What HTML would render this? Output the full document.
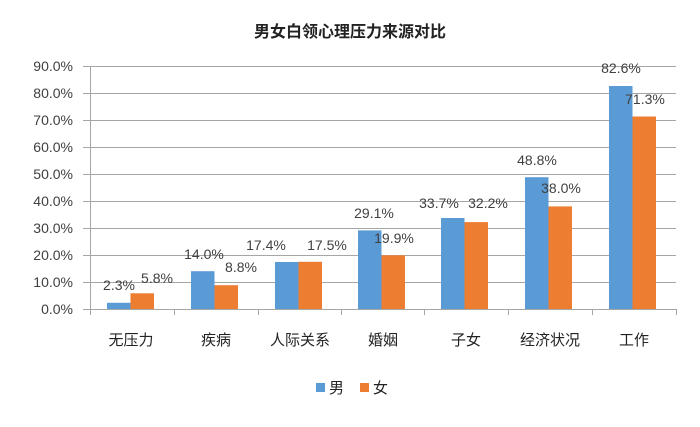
<!DOCTYPE html>
<html><head><meta charset="utf-8"><style>
html,body{margin:0;padding:0;background:#fff;}
svg text{font-family:"Liberation Sans","Noto Sans CJK SC",sans-serif;}
</style></head><body>
<svg width="700" height="422" viewBox="0 0 700 422" xmlns="http://www.w3.org/2000/svg">
<rect width="700" height="422" fill="#fff"/>
<text x="350" y="37" text-anchor="middle" font-size="16" font-weight="bold" fill="#222">男女白领心理压力来源对比</text>
<g stroke="#a6a6a6" stroke-width="1">
<line x1="83" y1="66.5" x2="676" y2="66.5"/>
<line x1="83" y1="93.5" x2="676" y2="93.5"/>
<line x1="83" y1="120.5" x2="676" y2="120.5"/>
<line x1="83" y1="147.5" x2="676" y2="147.5"/>
<line x1="83" y1="174.5" x2="676" y2="174.5"/>
<line x1="83" y1="201.5" x2="676" y2="201.5"/>
<line x1="83" y1="228.5" x2="676" y2="228.5"/>
<line x1="83" y1="255.5" x2="676" y2="255.5"/>
<line x1="83" y1="282.5" x2="676" y2="282.5"/>
<line x1="83" y1="309.5" x2="676" y2="309.5"/>
<line x1="90.5" y1="66" x2="90.5" y2="315"/>
<line x1="174.5" y1="309" x2="174.5" y2="315"/>
<line x1="258.5" y1="309" x2="258.5" y2="315"/>
<line x1="341.5" y1="309" x2="341.5" y2="315"/>
<line x1="424.5" y1="309" x2="424.5" y2="315"/>
<line x1="508.5" y1="309" x2="508.5" y2="315"/>
<line x1="592.5" y1="309" x2="592.5" y2="315"/>
<line x1="676.5" y1="309" x2="676.5" y2="315"/>
</g>
<g font-size="14" fill="#404040" text-anchor="end">
<text x="73" y="71">90.0%</text><text x="73" y="98">80.0%</text><text x="73" y="125">70.0%</text>
<text x="73" y="152">60.0%</text><text x="73" y="179">50.0%</text><text x="73" y="206">40.0%</text>
<text x="73" y="233">30.0%</text><text x="73" y="260">20.0%</text><text x="73" y="287">10.0%</text>
<text x="73" y="314">0.0%</text>
</g>
<g fill="#5b9bd5">
<rect x="107" y="302.8" width="23.5" height="6.2"/>
<rect x="191" y="271.2" width="23.5" height="37.8"/>
<rect x="275" y="262" width="23.5" height="47"/>
<rect x="358" y="230.4" width="23.5" height="78.6"/>
<rect x="441" y="218" width="23.5" height="91"/>
<rect x="525" y="177.2" width="23.5" height="131.8"/>
<rect x="609" y="86" width="23.5" height="223"/>
</g>
<g fill="#ed7d31">
<rect x="130.5" y="293.3" width="23.5" height="15.7"/>
<rect x="214.5" y="285.2" width="23.5" height="23.8"/>
<rect x="298.5" y="261.8" width="23.5" height="47.2"/>
<rect x="381.5" y="255.3" width="23.5" height="53.7"/>
<rect x="464.5" y="222.1" width="23.5" height="86.9"/>
<rect x="548.5" y="206.4" width="23.5" height="102.6"/>
<rect x="632.5" y="116.5" width="23.5" height="192.5"/>
</g>
<g font-size="14" fill="#404040" text-anchor="middle">
<text x="119" y="290">2.3%</text><text x="157" y="283">5.8%</text>
<text x="204" y="259">14.0%</text><text x="241" y="272">8.8%</text>
<text x="266" y="250">17.4%</text><text x="327" y="250">17.5%</text>
<text x="374" y="218">29.1%</text><text x="394" y="243">19.9%</text>
<text x="439" y="208">33.7%</text><text x="488" y="208">32.2%</text>
<text x="537" y="165">48.8%</text><text x="561" y="193">38.0%</text>
<text x="621" y="73">82.6%</text><text x="645" y="104">71.3%</text>
</g>
<g font-size="15" fill="#222" text-anchor="middle">
<text x="131" y="345">无压力</text><text x="216" y="345">疾病</text><text x="300" y="345">人际关系</text>
<text x="383" y="345">婚姻</text><text x="466" y="345">子女</text><text x="550" y="345">经济状况</text>
<text x="634" y="345">工作</text>
</g>
<rect x="316" y="383" width="9" height="9" fill="#5b9bd5"/>
<text x="329" y="393" font-size="15" fill="#222">男</text>
<rect x="360" y="383" width="9" height="9" fill="#ed7d31"/>
<text x="373" y="393" font-size="15" fill="#222">女</text>
</svg>
</body></html>
